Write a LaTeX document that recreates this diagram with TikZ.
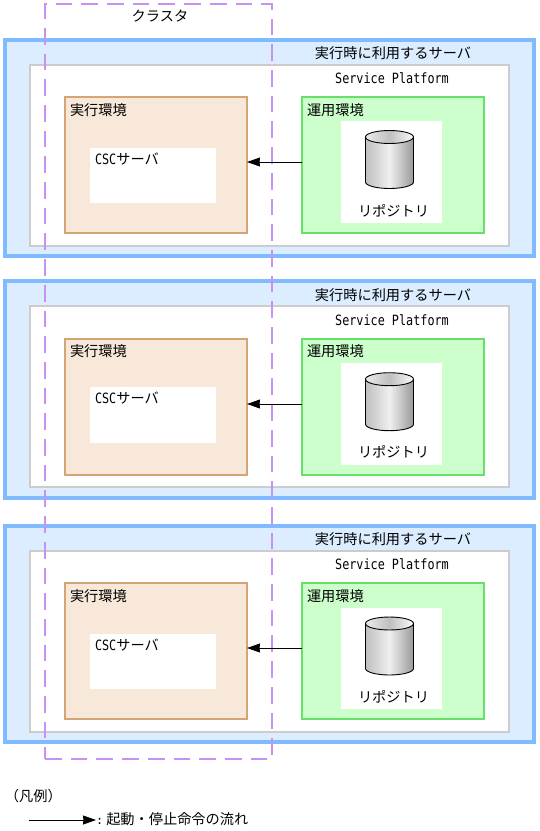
\documentclass[tikz,border=0pt]{standalone}
\usepackage{fontspec}
\usepackage{graphicx}
\usetikzlibrary{arrows.meta,positioning}
\newfontfamily\cjk{Noto Sans CJK JP}
\newfontfamily\latinmono{DejaVu Sans Mono}
\newcommand{\tallmono}[1]{{\latinmono\fontsize{11.8}{14}\selectfont\scalebox{1}[1.2]{#1}}}
\newcommand{\csclabel}{\tallmono{CSC}{\cjk\fontsize{14.2}{14}\selectfont サーバ}}
\definecolor{serverblue}{HTML}{80BBFF}
\definecolor{serverpale}{HTML}{DBEDFF}
\definecolor{platgray}{HTML}{CCCCCC}
\definecolor{envtan}{HTML}{D4A575}
\definecolor{envpale}{HTML}{F7E8D9}
\definecolor{opegreen}{HTML}{66E066}
\definecolor{opepale}{HTML}{CCFFCC}
\definecolor{clusterpurple}{HTML}{C892F5}
\begin{document}
\begin{tikzpicture}[x=1pt,y=-1pt,>={Stealth[inset=.5pt,length=13pt,width=9pt]},
 every node/.style={outer sep=0pt,inner sep=0pt},
 txt/.style={font=\cjk\fontsize{14.2}{14}\selectfont},
 server/.style={draw=serverblue,fill=serverpale,line width=4pt,anchor=north west,minimum width=529pt,minimum height=216.5pt},
 platform/.style={draw=platgray,fill=white,line width=2pt,anchor=north west,minimum width=479.5pt,minimum height=181pt},
 envbox/.style={draw=envtan,fill=envpale,line width=2pt,anchor=north west,minimum width=182pt,minimum height=136pt},
 opebox/.style={draw=opegreen,fill=opepale,line width=2.4pt,anchor=north west,minimum width=182pt,minimum height=136pt},
 cscbox/.style={fill=white,anchor=north west,minimum width=126pt,minimum height=55.5pt},
 repobox/.style={fill=white,anchor=north west,minimum width=101pt,minimum height=101.5pt},
 repodb/.pic={
  \shade[left color=black!25,right color=black!40,middle color=black!6]
   (-24,6.5)--(-24,51.5) arc[start angle=180,end angle=0,x radius=24,y radius=6.5]--(24,6.5)
   arc[start angle=0,end angle=180,x radius=24,y radius=6.5]--cycle;
  \shade[left color=black!8,right color=black!2,middle color=black!25]
   (0,6.5) ellipse[x radius=24,y radius=6.5];
  \draw[line width=.9pt] (-24,6.5)--(-24,51.5) arc[start angle=180,end angle=0,x radius=24,y radius=6.5]--(24,6.5);
  \draw[line width=.9pt] (0,6.5) ellipse[x radius=24,y radius=6.5];
 }]
\useasboundingbox (0,0) rectangle (539,831);
% first server
\node[server] (srv1) at (5,39.5) {};
\node[platform] (plat1) at (29.5,64.5) {};
\node[envbox] (env1) at (65,97) {};
\node[cscbox] (csc1) at (90,147.5) {};
\node[opebox] (ope1) at (302,97) {};
\node[repobox] (box1) at (341,121) {};
\pic (db1) at (389.5,130.5) {repodb};
\node[txt] (title1) at (393,52.7) {実行時に利用するサーバ};
\node (name1) at (392,78.3) {\tallmono{Service Platform}};
\node[txt,anchor=west] (envlab1) at (70,110) {実行環境};
\node[txt,anchor=west] (opelab1) at (307,110) {運用環境};
\node[anchor=west] (csclab1) at (95,159.5) {\csclabel};
\node[txt] (repolab1) at (393.5,210.5) {リポジトリ};
% second server
\node[server] (srv2) at (5,281) {};
\node[platform] (plat2) at (29.5,306) {};
\node[envbox] (env2) at (65,339) {};
\node[cscbox] (csc2) at (90,387) {};
\node[opebox] (ope2) at (302,339) {};
\node[repobox] (box2) at (341,363) {};
\pic (db2) at (389.5,372.7) {repodb};
\node[txt] (title2) at (393,295) {実行時に利用するサーバ};
\node (name2) at (392,320) {\tallmono{Service Platform}};
\node[txt,anchor=west] (envlab2) at (70,351.5) {実行環境};
\node[txt,anchor=west] (opelab2) at (307,351.5) {運用環境};
\node[anchor=west] (csclab2) at (95,398.5) {\csclabel};
\node[txt] (repolab2) at (393.5,452) {リポジトリ};
% third server
\node[server] (srv3) at (5,525.5) {};
\node[platform] (plat3) at (29.5,550.5) {};
\node[envbox] (env3) at (65,583) {};
\node[cscbox] (csc3) at (90,633.5) {};
\node[opebox] (ope3) at (302,583) {};
\node[repobox] (box3) at (341,607.5) {};
\pic (db3) at (389.5,617) {repodb};
\node[txt] (title3) at (393,539.5) {実行時に利用するサーバ};
\node (name3) at (392,564.5) {\tallmono{Service Platform}};
\node[txt,anchor=west] (envlab3) at (70,596) {実行環境};
\node[txt,anchor=west] (opelab3) at (307,596) {運用環境};
\node[anchor=west] (csclab3) at (95,645.5) {\csclabel};
\node[txt] (repolab3) at (393.5,696.5) {リポジトリ};
% cluster
\node[draw=clusterpurple,line width=2.4pt,dash pattern=on 16.7pt off 9pt,anchor=north west,
 minimum width=227pt,minimum height=755.5pt] (cluster) at (45,3.7) {};
\node[txt] (clusterlab) at (160,16) {クラスタ};
\draw[->,line width=.9pt] ([yshift=3pt]ope1.west)--([yshift=3pt]env1.east);
\draw[->,line width=.9pt] ([yshift=3pt]ope2.west)--([yshift=3pt]env2.east);
\draw[->,line width=.9pt] ([yshift=3pt]ope3.west)--([yshift=3pt]env3.east);
% legend
\node[txt,anchor=west] (legtitle) at (5,796) {（凡例）};
\coordinate (legstart) at (29,820);
\node[anchor=west] (legtext) at (96,819) {{\latinmono\fontsize{11.8}{14}\selectfont :}{\cjk\fontsize{14.2}{14}\selectfont\ 起動・停止命令の流れ}};
\draw[->,line width=.9pt] (legstart)--(legtext.west|-legstart);
\end{tikzpicture}
\end{document}
